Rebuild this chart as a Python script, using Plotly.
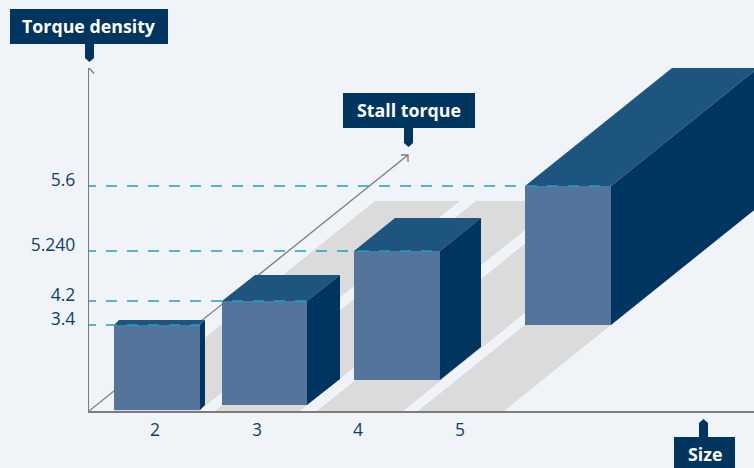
import plotly.graph_objects as go

# Content
sizes = ["2", "3", "4", "5"]
size_positions = [66, 168, 269, 371]
density_labels = ["3.4", "4.2", "5.240", "5.6"]
axis_names = ["Torque density", "Stall torque", "Size"]

# Diagram values (diagram units, x from the vertical axis, y from the baseline)
floor_left = [25, 126, 228, 329]
floor_width = [85, 85, 86, 86]
floor_run = [261, 261, 261, 261]
floor_rise = [210, 210, 210, 210]
bar_left = [25, 133, 265, 436]
bar_width = [86, 85, 86, 86]
bar_bottom = [1, 6, 31, 86]
bar_top = [86, 110, 160, 225]
bar_run = [5, 33, 41, 147]
bar_rise = [5, 26, 33, 118]
depth_axis_end = [319, 256]
vertical_axis_end = 343
size_axis_end = 665

BG = "#f0f4f8"
FRONT = "#53749b"
TOP = "#1e557f"
SIDE = "#00355f"
FLOOR = "#dbdbdb"
AXIS = "#7c7c7c"
DASH = "#1fa0c8"
TEXT = "#0f3f68"
WIDTH, HEIGHT = 754, 468
L, R, T, B = 89, 0, 68, 57


def poly(xs, ys, color):
    return go.Scatter(x=xs, y=ys, mode="lines", fill="toself", fillcolor=color,
                      line=dict(width=0, color=color), hoverinfo="skip", showlegend=False)


def path(xs, ys, color=AXIS, width=1.3, dash=None):
    return go.Scatter(x=xs, y=ys, mode="lines", cliponaxis=False, hoverinfo="skip", showlegend=False,
                      line=dict(color=color, width=width, dash=dash))


fig = go.Figure()

# floor shadows
for l, w, r, h in zip(floor_left, floor_width, floor_run, floor_rise):
    fig.add_trace(poly([l, l + w, l + w + r, l + r, l], [0, 0, h, h, 0], FLOOR))

# depth axis with open arrow head
dx, dy = depth_axis_end
fig.add_trace(path([0, dx], [0, dy]))
fig.add_trace(path([dx - 7, dx, dx], [dy, dy, dy - 7]))
# vertical axis arrow head
fig.add_trace(path([-5, 0, 5], [vertical_axis_end - 5.5, vertical_axis_end, vertical_axis_end - 5.5]))

# bars, back to front
for l, w, b, t, run, rise in reversed(list(zip(bar_left, bar_width, bar_bottom, bar_top, bar_run, bar_rise))):
    r = l + w
    fig.add_trace(poly([l, r, r + run, l + run, l], [t, t, t + rise, t + rise, t], TOP))
    fig.add_trace(poly([r, r + run, r + run, r, r], [b, b + rise, t + rise, t, b], SIDE))
    fig.add_trace(poly([l, r, r, l, l], [b, b, t, t, b], FRONT))

# dashed level lines
for l, w, t in zip(bar_left, bar_width, bar_top):
    fig.add_trace(path([-4, l + w], [t, t], color=DASH, width=1.4, dash="11px,10px"))


def px(x):
    return (x - L) / (WIDTH - L - R)


def py(y):
    return (HEIGHT - B - y) / (HEIGHT - B - T)


boxes = [(10, 168, 9, 44, 89.5, 62, False), (343, 475, 93, 128, 408.5, 147, False), (674, 735, 437, 470, 703.5, 419, True)]
for name, (x0, x1, y0, y1, pxx, tip, up) in zip(axis_names, boxes):
    s = f"M{px(x0)},{py(y0)} L{px(x1)},{py(y0)} L{px(x1)},{py(y1)} L{px(x0)},{py(y1)} Z"
    base = y0 if up else y1
    neck = tip + 4 if up else tip - 4
    s2 = (f"M{px(pxx - 4.5)},{py(base)} L{px(pxx + 4.5)},{py(base)} L{px(pxx + 4.5)},{py(neck)} "
          f"L{px(pxx)},{py(tip)} L{px(pxx - 4.5)},{py(neck)} Z")
    for p in (s, s2):
        fig.add_shape(type="path", path=p, xref="paper", yref="paper", fillcolor=SIDE, line_width=0, layer="above")
    cy = 454 if up else (y0 + y1) / 2 - 1
    fig.add_annotation(text=f"<b>{name}</b>", x=px((x0 + x1) / 2), y=py(cy), xref="paper", yref="paper",
                       showarrow=False, xanchor="center", yanchor="middle",
                       font=dict(family="Open Sans", size=17.8, color="white"))

fig.update_layout(
    width=WIDTH, height=HEIGHT, margin=dict(l=L, r=R, t=T, b=B),
    paper_bgcolor=BG, plot_bgcolor=BG, showlegend=False, hovermode=False,
    font=dict(family="Open Sans", size=17.5, color=TEXT),
    xaxis=dict(range=[0, size_axis_end], showgrid=False, zeroline=False, showline=True, linecolor=AXIS, linewidth=1.5,
               tickmode="array", tickvals=size_positions,
               ticktext=sizes, ticks="", ticklabelstandoff=2),
    yaxis=dict(range=[0, vertical_axis_end], showgrid=False, zeroline=False, showline=True, linecolor=AXIS, linewidth=1.3,
               tickmode="array", tickvals=bar_top, ticktext=density_labels, ticks="", ticklabelstandoff=9,
               ticklabelshift=-6),
)
fig.write_html("out.html", config={"displayModeBar": False},
               post_script="document.body.style.margin='0';document.body.style.background='#f0f4f8';")
